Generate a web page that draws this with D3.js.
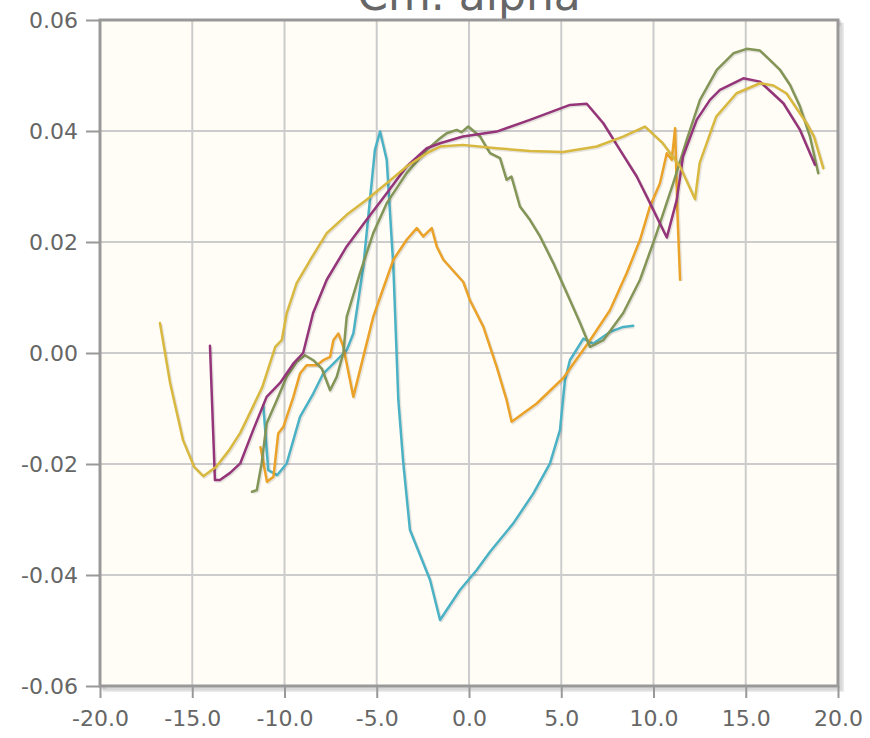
<!DOCTYPE html>
<html>
<head>
<meta charset="utf-8">
<script src="https://cdn.jsdelivr.net/npm/d3@7"></script>
<style>
  body { margin: 0; background: #fff; }
  svg { display: block; }
</style>
</head>
<body>
<script>
// Cm vs alpha, five runs, [alpha, Cm] pairs
const tealRun = [[-11.15,-0.0094],[-10.88,-0.0211],[-10.4,-0.022],[-9.88,-0.0199],[-9.16,-0.0115],[-8.44,-0.0073],[-7.9,-0.0037],[-7.35,-0.0019],[-6.63,0.0005],[-6.27,0.0035],[-5.73,0.0155],[-5.37,0.0276],[-5.1,0.0366],[-4.82,0.0399],[-4.46,0.0348],[-4.1,0.0155],[-3.83,-0.0085],[-3.56,-0.0199],[-3.2,-0.0319],[-2.11,-0.0409],[-1.57,-0.0481],[-0.49,-0.0427],[0.42,-0.0391],[1.14,-0.0358],[2.4,-0.0307],[3.49,-0.0253],[4.39,-0.0199],[4.93,-0.0139],[5.2,-0.0049],[5.47,-0.0013],[6.2,0.0026],[6.74,0.0017],[7.64,0.0038],[8.36,0.0047],[8.9,0.0049]]

const orangeRun = [[-11.3,-0.017],[-10.95,-0.0232],[-10.6,-0.0223],[-10.34,-0.0145],[-10.06,-0.0133],[-9.52,-0.0079],[-9.16,-0.0037],[-8.8,-0.0022],[-8.25,-0.0022],[-7.9,-0.0013],[-7.53,-0.0007],[-7.35,0.0023],[-7.08,0.0035],[-6.81,0.0011],[-6.27,-0.0079],[-5.19,0.0065],[-4.1,0.0168],[-3.38,0.0204],[-2.83,0.0225],[-2.48,0.021],[-2.02,0.0225],[-1.75,0.0192],[-1.39,0.0168],[-0.31,0.0128],[0.05,0.0095],[0.78,0.0047],[1.5,-0.0025],[2.04,-0.0085],[2.31,-0.0124],[3.67,-0.0091],[5.11,-0.0045],[6.56,0.0023],[7.64,0.0077],[8.55,0.0144],[9.27,0.0204],[9.81,0.0264],[10.35,0.0306],[10.72,0.036],[10.99,0.0348],[11.17,0.0405],[11.3,0.025],[11.44,0.0132]]

const greenRun = [[-11.76,-0.025],[-11.5,-0.0247],[-11.24,-0.0199],[-10.97,-0.0127],[-10.42,-0.0085],[-9.88,-0.0043],[-9.34,-0.0016],[-8.89,-0.0004],[-8.44,-0.0013],[-7.98,-0.0028],[-7.53,-0.0067],[-7.17,-0.0043],[-6.81,0.0],[-6.63,0.0065],[-5.91,0.0144],[-5.19,0.0216],[-4.46,0.027],[-3.38,0.0324],[-2.29,0.0366],[-1.57,0.0387],[-1.21,0.0396],[-0.67,0.0402],[-0.4,0.0398],[-0.04,0.0408],[0.6,0.039],[1.14,0.036],[1.68,0.0351],[2.04,0.0312],[2.3,0.0318],[2.76,0.0264],[3.3,0.024],[3.85,0.021],[4.57,0.0162],[5.3,0.0108],[6.02,0.0054],[6.56,0.0011],[7.28,0.0023],[8.36,0.0072],[9.27,0.0132],[10.17,0.0216],[11.07,0.0306],[11.8,0.0384],[12.52,0.0456],[13.43,0.051],[14.33,0.054],[15.05,0.0548],[15.77,0.0545],[16.3,0.0528],[16.86,0.051],[17.4,0.0483],[17.94,0.0444],[18.48,0.039],[18.93,0.0324]]

const purpleRun = [[-14.04,0.0013],[-13.77,-0.0229],[-13.5,-0.0229],[-12.95,-0.0216],[-12.4,-0.0199],[-11.7,-0.0139],[-10.97,-0.0079],[-10.24,-0.0054],[-9.5,-0.0018],[-8.99,0.0],[-8.45,0.0072],[-7.71,0.0132],[-6.63,0.0192],[-5.55,0.024],[-4.46,0.0288],[-3.38,0.0336],[-2.29,0.0369],[-1.57,0.0378],[-0.33,0.039],[1.5,0.0399],[3.3,0.042],[5.47,0.0447],[6.38,0.0449],[7.28,0.0414],[8.18,0.0366],[9.09,0.0318],[9.81,0.027],[10.72,0.0208],[11.26,0.0276],[11.6,0.0354],[12.34,0.042],[13.06,0.0456],[13.6,0.0474],[14.87,0.0495],[15.77,0.0489],[17.04,0.045],[17.94,0.0402],[18.75,0.0339]]

const yellowRun = [[-16.75,0.0054],[-16.2,-0.0054],[-15.5,-0.0157],[-14.9,-0.0205],[-14.4,-0.0222],[-13.7,-0.0205],[-13.0,-0.0175],[-12.4,-0.0144],[-11.8,-0.0103],[-11.2,-0.0061],[-10.5,0.0011],[-10.15,0.0023],[-9.88,0.0072],[-9.34,0.0126],[-8.6,0.0168],[-7.71,0.0216],[-6.63,0.0249],[-5.55,0.0276],[-4.46,0.0306],[-3.38,0.0336],[-2.29,0.036],[-1.57,0.0372],[-0.33,0.0375],[1.5,0.0369],[3.3,0.0364],[5.1,0.0362],[6.92,0.0372],[8.35,0.039],[9.54,0.0408],[10.5,0.0378],[11.44,0.0336],[12.25,0.0277],[12.5,0.0342],[13.2,0.0408],[13.4,0.0426],[14.5,0.0468],[15.77,0.0486],[16.5,0.0482],[17.2,0.0468],[18.3,0.0414],[18.7,0.039],[19.2,0.0333]]

const runs = [tealRun, orangeRun, greenRun, purpleRun, yellowRun]
const runColors = ["#4bb2c5", "#EAA228", "#839557", "#953579", "#d8b83f"]

const xTicks = [-20, -15, -10, -5, 0, 5, 10, 15, 20]
const yTicks = [-0.06, -0.04, -0.02, 0, 0.02, 0.04, 0.06]
const chartTitle = "Cm. alpha"

const width = 870,
      height = 738,
      padL = 100, padR = 838, padT = 20, padB = 686

const svg = d3.select("body")
  .append("svg")
  .attr("width", width)
  .attr("height", height)

const x = d3.scaleLinear().domain([-20, 20]).range([padL, padR])
const y = d3.scaleLinear().domain([-0.06, 0.06]).range([padB, padT])

// plain hyphen for negatives, like the original
const loc = d3.formatLocale({decimal: ".", thousands: ",", grouping: [3], currency: ["", ""], minus: "-"})

// title, mostly cut off at the top edge
svg.append("text")
  .attr("x", x(0))
  .attr("y", 10)
  .attr("text-anchor", "middle")
  .style("font-family", "DejaVu Sans, sans-serif")
  .style("font-size", "44px")
  .style("fill", "#666")
  .text(chartTitle)

// frame shadow
for (let i = 1; i <= 3; i++) {
  svg.append("rect")
    .attr("x", padL + i * 1.5)
    .attr("y", padT + i * 1.5)
    .attr("width", padR - padL)
    .attr("height", padB - padT)
    .attr("fill", "none")
    .attr("stroke", "rgba(0,0,0,0.08)")
    .attr("stroke-width", 3)
}

svg.append("rect")
  .attr("x", padL)
  .attr("y", padT)
  .attr("width", padR - padL)
  .attr("height", padB - padT)
  .attr("fill", "#fffdf6")

// grid
svg.append("g")
  .selectAll("line")
  .data(xTicks)
  .join("line")
  .attr("x1", d => x(d)).attr("x2", d => x(d))
  .attr("y1", padT).attr("y2", padB)
  .attr("stroke", "#cccccc")
  .attr("stroke-width", 2)

svg.append("g")
  .selectAll("line")
  .data(yTicks)
  .join("line")
  .attr("x1", padL).attr("x2", padR)
  .attr("y1", d => y(d)).attr("y2", d => y(d))
  .attr("stroke", "#cccccc")
  .attr("stroke-width", 2)

// axes
const xAxis = d3.axisBottom(x).tickValues(xTicks).tickFormat(loc.format(".1f")).tickSize(12).tickPadding(8)
const yAxis = d3.axisLeft(y).tickValues(yTicks).tickFormat(loc.format(".2f")).tickSize(14).tickPadding(8)

const gx = svg.append("g").attr("transform", `translate(0,${padB})`).call(xAxis)
const gy = svg.append("g").attr("transform", `translate(${padL},0)`).call(yAxis)

;[gx, gy].forEach(g => {
  g.select(".domain").remove()
  g.selectAll(".tick line").attr("stroke", "#999").attr("stroke-width", 2)
  g.selectAll("text")
    .style("font-family", "DejaVu Sans, sans-serif")
    .style("font-size", "22px")
    .style("fill", "#666")
})
gx.selectAll("text").attr("dy", "0.9em")

// curves
const line = d3.line()
  .x(d => x(d[0]))
  .y(d => y(d[1]))

runs.forEach((run, i) => {
  svg.append("path")
    .datum(run)
    .attr("d", line)
    .attr("transform", "translate(1.2,1.2)")
    .attr("fill", "none")
    .attr("stroke", "rgba(0,0,0,0.1)")
    .attr("stroke-width", 3)
    .attr("stroke-linejoin", "round")

  svg.append("path")
    .datum(run)
    .attr("d", line)
    .attr("fill", "none")
    .attr("stroke", runColors[i])
    .attr("stroke-width", 2.5)
    .attr("stroke-linejoin", "round")
    .attr("stroke-linecap", "round")
})

// border
svg.append("rect")
  .attr("x", padL)
  .attr("y", padT)
  .attr("width", padR - padL)
  .attr("height", padB - padT)
  .attr("fill", "none")
  .attr("stroke", "#999999")
  .attr("stroke-width", 3)
</script>
</body>
</html>
